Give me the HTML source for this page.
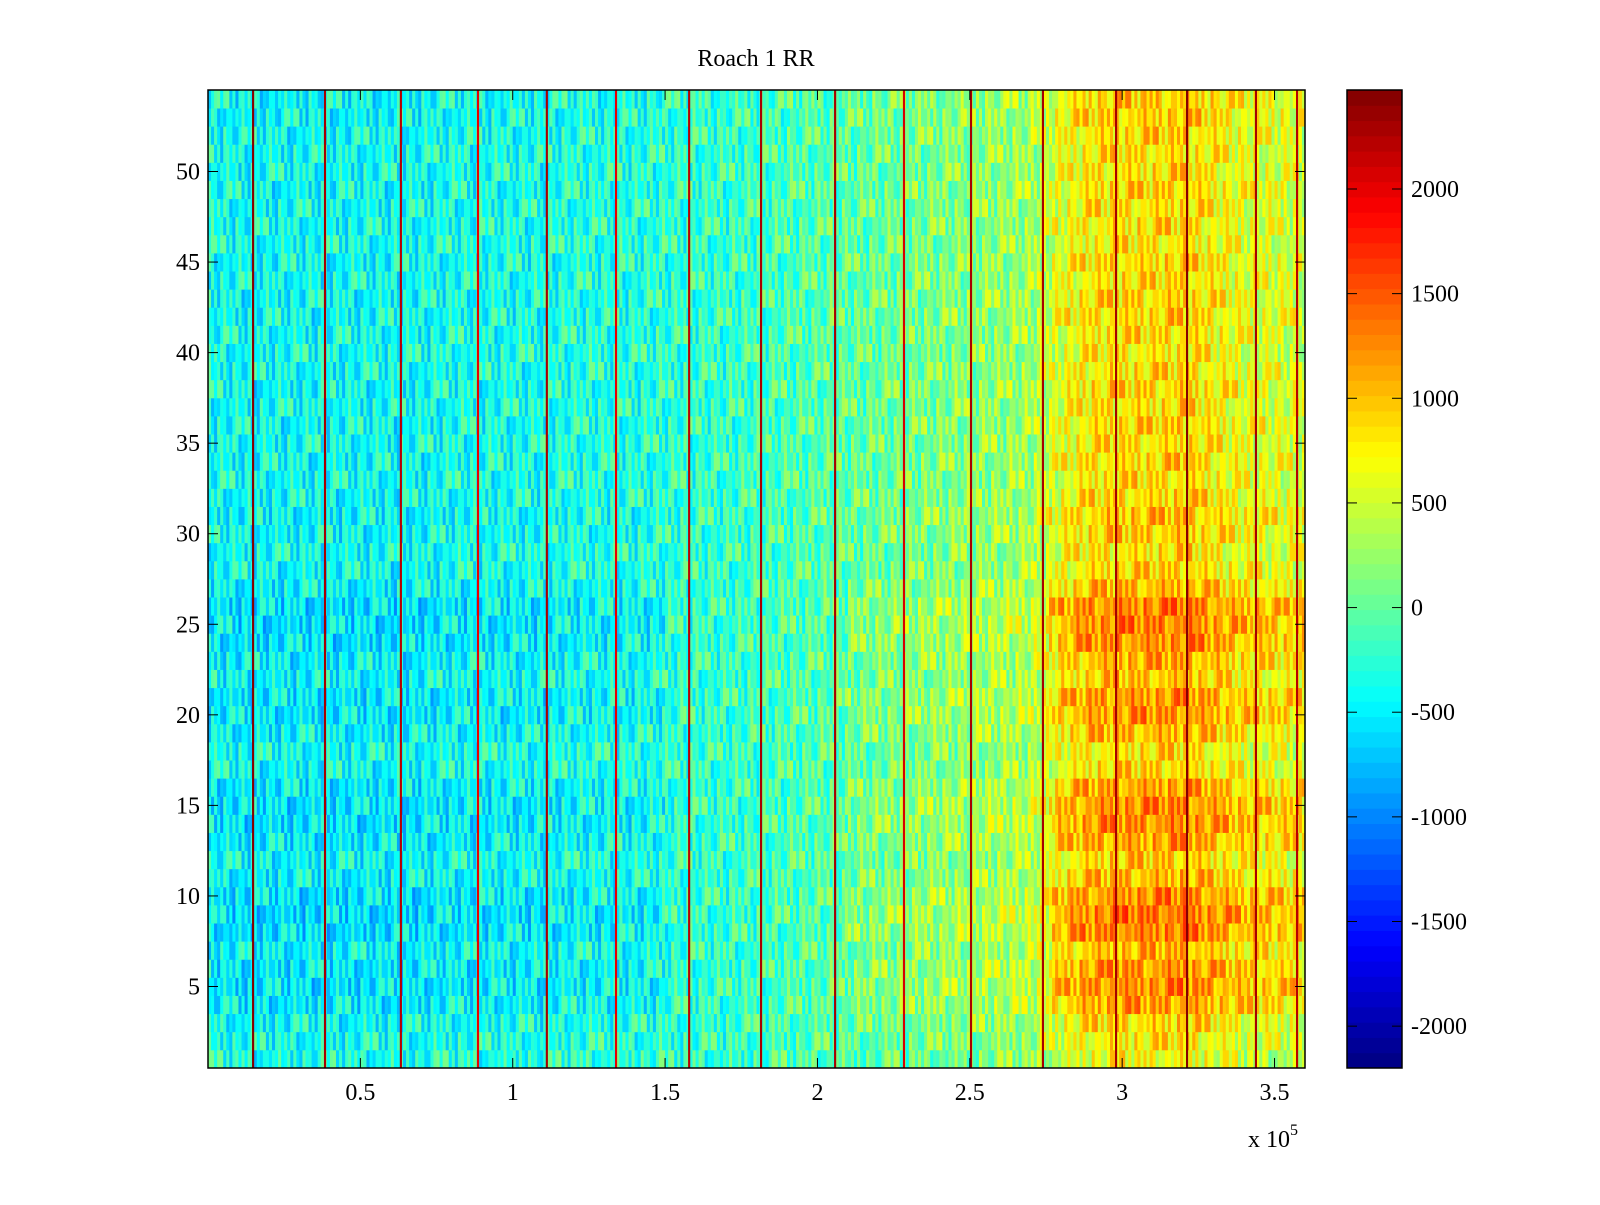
<!DOCTYPE html>
<html><head><meta charset="utf-8"><style>
body{margin:0;background:#fff;}
svg text{font-family:"Liberation Serif",serif;fill:#000;}
</style></head><body>
<svg id="fig" width="1600" height="1200" viewBox="0 0 1600 1200" xmlns="http://www.w3.org/2000/svg">
<rect width="1600" height="1200" fill="#fff"/>
<text x="756" y="66" font-size="24" text-anchor="middle">Roach 1 RR</text>
<g id="heat"></g>
<g id="axes"></g>
<g id="cbar"></g>
</svg>
<script>
// ---- data ----
const colBase = [-350,-400,-400,-400,-400,-400,-400,-400,-350,-350,-350,-350,-300,-300,-300,-250,-200,-200,-150,-100,-50,0,50,100,150,200,250,300,650,850,900,900,950,800,650,600,550];
const rowOffset = [-200,-100,0,250,350,300,150,400,450,350,150,50,250,350,350,250,0,-50,150,300,300,100,200,350,400,400,150,0,-50,50,100,0,-50,0,-50,0,-50,0,-50,-100,-50,0,0,-50,0,-100,-50,-50,0,-50,-50,0,50,50];
const texture = [120,-380,260,-90,400,-250,30,-420,310,-150,180,-320,90,350,-200,-40,270,-360,150,-110,380,-280,60,-170,220,-400,330,-60,10,-300,290,-220,140,-130,360,-20,-340];
const lineX = [14800,38400,63300,88600,111200,133900,157900,181500,205800,228400,250400,274000,298000,321300,343900,357400];
const lineVal = [2400,2300,2200,2000,2300,2000,2200,2300,2300,2100,2300,2300,2300,2400,2300,2200];
const xTicks = [0.5,1,1.5,2,2.5,3,3.5];
const yTicks = [5,10,15,20,25,30,35,40,45,50];
const cTicks = [-2000,-1500,-1000,-500,0,500,1000,1500,2000];
const nRows = 54, colStep = 1000, xMax = 360000;
const cMin = -2200, cMax = 2473;
// ---- layout ----
const L=208, R=1305, T=90, B=1068;
const NS="http://www.w3.org/2000/svg";
const xs = v => L + v/xMax*(R-L);
const ys = r => B - (r-0.5)/nRows*(B-T);
function jet(v){
  let t=(v-cMin)/(cMax-cMin); t=Math.max(0,Math.min(0.9999,t));
  t=(Math.floor(t*64)+0.5)/64;
  const f=x=>Math.round(255*Math.max(0,Math.min(1,x)));
  return `rgb(${f(1.5-Math.abs(4*t-3))},${f(1.5-Math.abs(4*t-2))},${f(1.5-Math.abs(4*t-1))})`;
}
function el(tag,attrs,parent){const e=document.createElementNS(NS,tag);for(const k in attrs)e.setAttribute(k,attrs[k]);parent.appendChild(e);return e;}
const heat=document.getElementById('heat');
for(let c=0;c*colStep<xMax;c++){
  const xv=c*colStep+colStep/2, bi=xv/10000, i0=Math.floor(bi), fr=bi-i0;
  const base=colBase[i0]*(1-fr)+colBase[Math.min(i0+1,colBase.length-1)]*fr;
  for(let r=1;r<=nRows;r++){
    const w = base>500?1:(base>0?0.4:(base>-250?0:-0.4));
    const v=base+rowOffset[r-1]*w+texture[(c*7+r*13)%texture.length];
    const rc=el('rect',{x:xs(c*colStep).toFixed(2),y:ys(r+0.5).toFixed(2),width:(xs(colStep)-L+0.4).toFixed(2),height:((B-T)/nRows+0.4).toFixed(2),fill:jet(v)},heat);
    
    
  }
}
lineX.forEach((lx,i)=>{
  const ln=el('rect',{x:xs(lx-350).toFixed(2),y:T,width:(xs(700)-L).toFixed(2),height:B-T,fill:jet(lineVal[i])},heat);
  
  
});
const ax=document.getElementById('axes');
const fr=el('rect',{x:L,y:T,width:R-L,height:B-T,fill:'none',stroke:'#000','stroke-width':1.5},ax);


xTicks.forEach(t=>{
  const x=xs(t*1e5);
  el('line',{x1:x,x2:x,y1:B,y2:B-10,stroke:'#000'},ax);
  el('line',{x1:x,x2:x,y1:T,y2:T+10,stroke:'#000'},ax);
  const tx=el('text',{x:x,y:B+32,'font-size':24,'text-anchor':'middle'},ax);
  tx.textContent=t;
  
  
});
yTicks.forEach(t=>{
  const y=ys(t);
  el('line',{x1:L,x2:L+10,y1:y,y2:y,stroke:'#000'},ax);
  el('line',{x1:R,x2:R-10,y1:y,y2:y,stroke:'#000'},ax);
  const tx=el('text',{x:L-8,y:y+8,'font-size':24,'text-anchor':'end'},ax);
  tx.textContent=t;
  
  
});
const ex=el('text',{x:1248,y:1147,'font-size':24},ax);


ex.innerHTML='x 10<tspan dy="-12" font-size="16">5</tspan>';
// colorbar
const cb=document.getElementById('cbar');
const CL=1347, CR=1402;
const cy=v=>B-(v-cMin)/(cMax-cMin)*(B-T);
for(let i=0;i<64;i++){
  const v0=cMin+(cMax-cMin)*i/64, v1=cMin+(cMax-cMin)*(i+1)/64;
  const s=el('rect',{x:CL,y:cy(v1).toFixed(2),width:CR-CL,height:(cy(v0)-cy(v1)+0.5).toFixed(2),fill:jet((v0+v1)/2)},cb);
  
  
}
const cf=el('rect',{x:CL,y:T,width:CR-CL,height:B-T,fill:'none',stroke:'#000','stroke-width':1.5},cb);


cTicks.forEach(t=>{
  const y=cy(t);
  el('line',{x1:CL,x2:CL+10,y1:y,y2:y,stroke:'#000'},cb);
  el('line',{x1:CR,x2:CR-10,y1:y,y2:y,stroke:'#000'},cb);
  const tx=el('text',{x:CR+9,y:y+8,'font-size':24},cb);
  tx.textContent=t;
  
  
});
</script>
</body></html>
